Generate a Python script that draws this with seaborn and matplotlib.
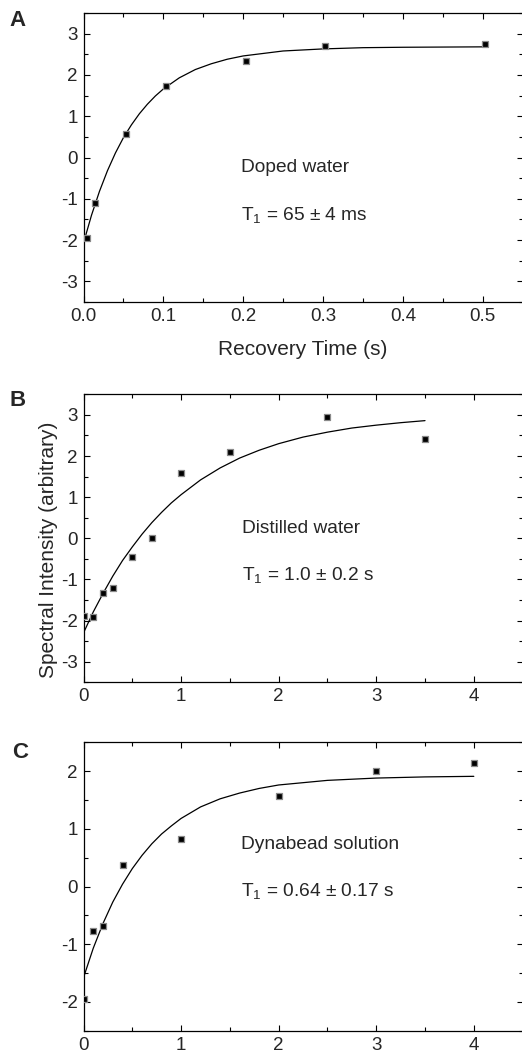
import matplotlib
matplotlib.use("Agg")
import matplotlib.pyplot as plt
import seaborn as sns
import numpy as np
from matplotlib.ticker import MultipleLocator

# ---------------- data ----------------
# Panel A: doped water
a_t = [0.004, 0.014, 0.053, 0.103, 0.203, 0.303, 0.503]
a_y = [-1.96, -1.11, 0.57, 1.73, 2.33, 2.69, 2.76]
a_fit_t = [0.003, 0.01, 0.02, 0.03, 0.04, 0.05, 0.06, 0.07, 0.08, 0.09, 0.10,
           0.12, 0.14, 0.16, 0.18, 0.20, 0.25, 0.30, 0.35, 0.40, 0.50]
a_fit_y = [-1.87, -1.40, -0.82, -0.32, 0.11, 0.48, 0.79, 1.06, 1.29, 1.49, 1.66,
           1.93, 2.13, 2.27, 2.38, 2.46, 2.58, 2.63, 2.66, 2.67, 2.68]

# Panel B: distilled water
b_t = [0.0, 0.1, 0.2, 0.3, 0.5, 0.7, 1.0, 1.5, 2.5, 3.5]
b_y = [-1.88, -1.92, -1.32, -1.21, -0.45, 0.01, 1.58, 2.10, 2.94, 2.42]
b_fit_t = [0.0, 0.1, 0.2, 0.3, 0.4, 0.5, 0.6, 0.7, 0.8, 0.9, 1.0, 1.2, 1.4,
           1.6, 1.8, 2.0, 2.25, 2.5, 2.75, 3.0, 3.25, 3.5]
b_fit_y = [-2.30, -1.79, -1.34, -0.92, -0.54, -0.21, 0.10, 0.38, 0.63, 0.86,
           1.06, 1.42, 1.71, 1.95, 2.14, 2.30, 2.46, 2.58, 2.68, 2.75, 2.81, 2.86]

# Panel C: Dynabead solution
c_t = [0.0, 0.1, 0.2, 0.4, 1.0, 2.0, 3.0, 4.0]
c_y = [-1.95, -0.77, -0.68, 0.38, 0.82, 1.57, 2.01, 2.14]
c_fit_t = [0.0, 0.1, 0.2, 0.3, 0.4, 0.5, 0.6, 0.7, 0.8, 0.9, 1.0, 1.2, 1.4,
           1.6, 1.8, 2.0, 2.5, 3.0, 3.5, 4.0]
c_fit_y = [-1.58, -1.07, -0.64, -0.27, 0.04, 0.31, 0.54, 0.74, 0.91, 1.05,
           1.18, 1.38, 1.52, 1.62, 1.70, 1.76, 1.84, 1.88, 1.90, 1.91]

panel_letters = ["A", "B", "C"]
sample_names = ["Doped water", "Distilled water", "Dynabead solution"]
t1_texts = [r"T$_{\mathregular{1}}$ = 65 ± 4 ms",
            r"T$_{\mathregular{1}}$ = 1.0 ± 0.2 s",
            r"T$_{\mathregular{1}}$ = 0.64 ± 0.17 s"]
xlabel_a = "Recovery Time (s)"
ylabel_b = "Spectral Intensity (arbitrary)"

# ---------------- style ----------------
sns.set_style("ticks")
plt.rcParams["font.family"] = ["Liberation Sans", "DejaVu Sans"]
plt.rcParams["mathtext.fontset"] = "custom"
plt.rcParams["mathtext.rm"] = "Liberation Sans"
plt.rcParams["mathtext.default"] = "regular"

W, H = 522, 1053
fig = plt.figure(figsize=(W / 100, H / 100), dpi=100)

def ax_rect(top_px, bottom_px, left_px=83.5, right_px=522.6):
    return [left_px / W, 1 - bottom_px / H, (right_px - left_px) / W,
            (bottom_px - top_px) / H]

axA = fig.add_axes(ax_rect(13, 302))
axB = fig.add_axes(ax_rect(394.3, 682.3))
axC = fig.add_axes(ax_rect(742.3, 1030.7))

panels = [
    (axA, a_t, a_y, a_fit_t, a_fit_y, (0, 0.55), (-3.5, 3.5), 0.1, 0.05, 1, 0.5,
     (0.197, -0.35), (0.197, -1.51)),
    (axB, b_t, b_y, b_fit_t, b_fit_y, (0, 4.5), (-3.5, 3.5), 1, 0.5, 1, 0.5,
     (1.62, 0.135), (1.62, -1.01)),
    (axC, c_t, c_y, c_fit_t, c_fit_y, (0, 4.5), (-2.5, 2.5), 1, 0.5, 1, 0.5,
     (1.61, 0.654), (1.61, -0.17)),
]

for i, (ax, t, y, ft, fy, xl, yl, xmaj, xmin, ymaj, ymin, p1, p2) in enumerate(panels):
    sns.lineplot(x=ft, y=fy, ax=ax, color="black", linewidth=0.9,
                 estimator=None, sort=False, zorder=2)
    sns.scatterplot(x=t, y=y, ax=ax, marker="s", s=18, color="black",
                    edgecolor="#8a8a8a", linewidth=0.9, zorder=3)
    ax.set_xlim(*xl)
    ax.set_ylim(*yl)
    ax.xaxis.set_major_locator(MultipleLocator(xmaj))
    ax.xaxis.set_minor_locator(MultipleLocator(xmin))
    ax.yaxis.set_major_locator(MultipleLocator(ymaj))
    ax.yaxis.set_minor_locator(MultipleLocator(ymin))
    ax.tick_params(which="both", direction="in", top=True, right=True,
                   color="black", width=0.8)
    ax.tick_params(which="major", length=4.5, pad=4.3, labelsize=13.5)
    ax.tick_params(which="minor", length=3)
    for sp in ax.spines.values():
        sp.set_color("black")
        sp.set_linewidth(0.9)
        sp.set_visible(True)
    ax.set_xlabel("")
    ax.set_ylabel("")
    ax.text(p1[0], p1[1], sample_names[i], fontsize=13.8, va="baseline", ha="left")
    ax.text(p2[0], p2[1], t1_texts[i], fontsize=13.8, va="baseline", ha="left")

axA.xaxis.set_major_formatter(matplotlib.ticker.FormatStrFormatter("%.1f"))
axB.xaxis.set_major_formatter(matplotlib.ticker.FormatStrFormatter("%d"))
axC.xaxis.set_major_formatter(matplotlib.ticker.FormatStrFormatter("%d"))
for ax in (axA, axB, axC):
    ax.yaxis.set_major_formatter(matplotlib.ticker.FormatStrFormatter("%d"))

axA.set_xlabel(xlabel_a, fontsize=15, va="baseline")
axA.xaxis.set_label_coords(0.5, (302 - 355) / 289)
axB.set_ylabel(ylabel_b, fontsize=15, va="center", ha="center")
axB.yaxis.set_label_coords(-0.080, 0.459)

for letter, (cx, cy) in zip(panel_letters, [(18, 20), (18, 401), (20, 753)]):
    fig.text(cx / W, 1 - cy / H, letter, fontsize=16, fontweight="bold",
             ha="center", va="center")

fig.savefig("out.png", dpi=100)
